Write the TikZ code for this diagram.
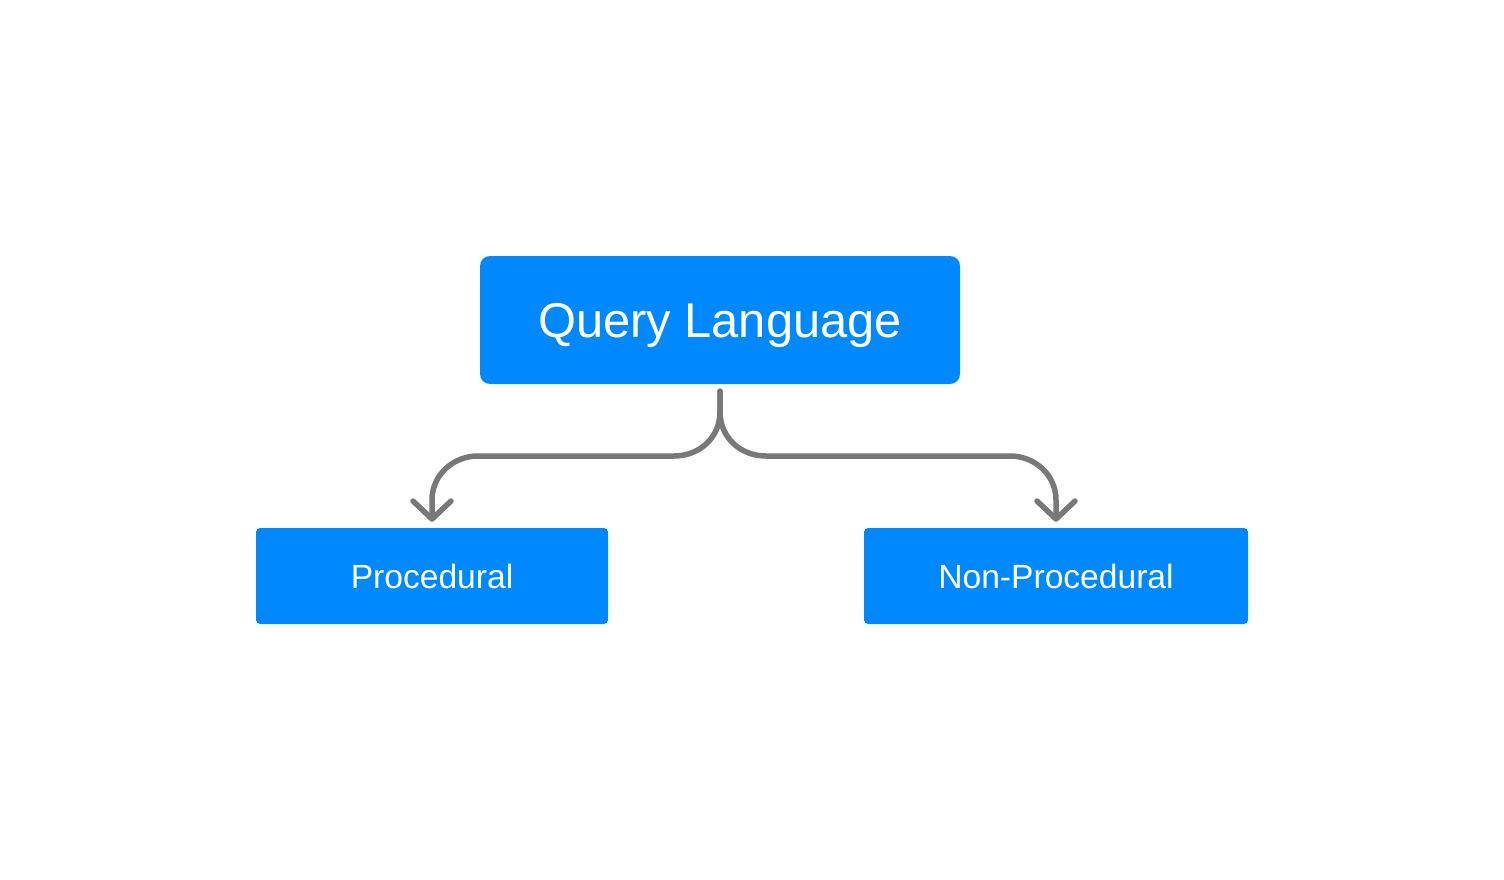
\documentclass[tikz,border=0pt]{standalone}
\usepackage{fontspec}
\setmainfont{Liberation Sans}
\usetikzlibrary{arrows.meta}
\definecolor{boxblue}{HTML}{0088FF}
\definecolor{linegray}{HTML}{787878}
\begin{document}
\begin{tikzpicture}[x=1pt,y=-1pt,
  box/.style={fill=boxblue, text=white, inner sep=0pt, text depth=0pt},
  conn/.style={draw=linegray, line width=5.5pt, line cap=round, line join=round,
    -{Straight Barb[length=18pt,width=38pt,round]}}]
\useasboundingbox[fill=white] (0,0) rectangle (1504,880);
\node[box, rounded corners=10pt, minimum width=480pt, minimum height=128pt,
  text height=35pt, font=\fontsize{48.8}{56}\selectfont] (q) at (720,320) {Query Language};
\node[box, rounded corners=4pt, minimum width=352pt, minimum height=96pt,
  text height=24pt, font=\fontsize{33.6}{40}\selectfont] (p) at (432,576) {Procedural};
\node[box, rounded corners=4pt, minimum width=384pt, minimum height=96pt,
  text height=24pt, font=\fontsize{33.6}{40}\selectfont] (np) at (1056,576) {Non-Procedural};
\draw[conn] ([yshift=-7pt]q.south) -- (720,412) .. controls (720,437) and (700,456) .. (674,456)
  -- (478,456) .. controls (453,456) and (432,475) .. (432,500) -- ([yshift=6pt]p.north);
\draw[conn] ([yshift=-7pt]q.south) -- (720,412) .. controls (720,437) and (740,456) .. (766,456)
  -- (1010,456) .. controls (1035,456) and (1056,475) .. (1056,500) -- ([yshift=6pt]np.north);
\end{tikzpicture}
\end{document}
